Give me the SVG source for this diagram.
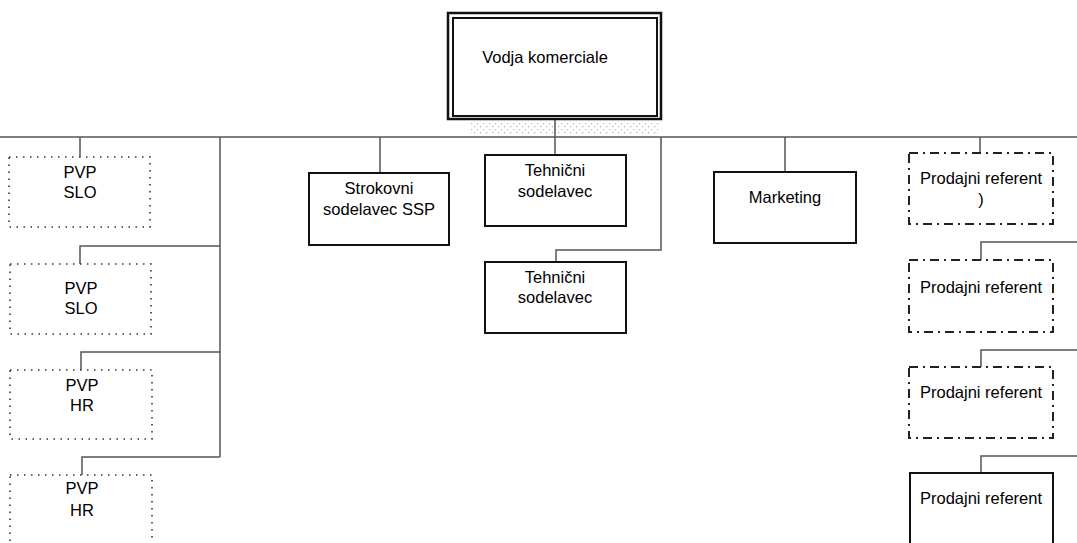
<svg xmlns="http://www.w3.org/2000/svg" width="1077" height="543" viewBox="0 0 1077 543">
<defs>
<style>
.t{font-family:"Liberation Sans",Arial,sans-serif;font-size:16.5px;fill:#000;text-anchor:middle}
.solid{fill:#fff;stroke:#111;stroke-width:2}
.dot{fill:#fff;stroke:#333;stroke-width:1.6;stroke-dasharray:1.5 5.5}
.dd{fill:#fff;stroke:#222;stroke-width:2;stroke-dasharray:9 5 2 5}
.c{fill:none;stroke:#555;stroke-width:1.5}
</style>
<pattern id="speck" width="6" height="6" patternUnits="userSpaceOnUse">
<rect x="0" y="0" width="1.2" height="1.2" fill="#888"/>
<rect x="3" y="3" width="1.2" height="1.2" fill="#999"/>
</pattern>
</defs>
<rect width="1077" height="543" fill="#fff"/>
<rect x="470" y="121" width="190" height="14" fill="url(#speck)" opacity="0.7"/>
<g id="connectors">
<line class="c" x1="0" y1="137" x2="1077" y2="137"/>
<line class="c" x1="555" y1="120" x2="555" y2="155"/>
<polyline class="c" points="80,137 80,157"/>
<polyline class="c" points="220,137 220,457"/>
<polyline class="c" points="220,246 80,246 80,264"/>
<polyline class="c" points="220,352 81,352 81,370"/>
<polyline class="c" points="220,457 82,457 82,475"/>
<line class="c" x1="380" y1="137" x2="380" y2="173"/>
<polyline class="c" points="661,137 661,250 556,250 556,262"/>
<line class="c" x1="785" y1="137" x2="785" y2="172"/>
<line class="c" x1="980" y1="137" x2="980" y2="153"/>
<polyline class="c" points="1077,242 981,242 981,260"/>
<polyline class="c" points="1077,350 981,350 981,367"/>
<polyline class="c" points="1077,456 981,456 981,473"/>
</g>
<g id="vodja">
<rect x="448" y="13" width="213" height="106" fill="#fff" stroke="#111" stroke-width="2.5"/>
<rect x="453" y="18" width="204" height="98" fill="none" stroke="#111" stroke-width="2"/>
<text class="t" x="545" y="63">Vodja komerciale</text>
</g>
<g id="pvp1">
<rect class="dot" x="9" y="157" width="141" height="70"/>
<text class="t" x="80" y="178">PVP</text>
<text class="t" x="80" y="198">SLO</text>
</g>
<g id="pvp2">
<rect class="dot" x="10" y="264" width="141" height="70"/>
<text class="t" x="81" y="294">PVP</text>
<text class="t" x="81" y="314">SLO</text>
</g>
<g id="pvp3">
<rect class="dot" x="10" y="370" width="142" height="69"/>
<text class="t" x="82" y="391">PVP</text>
<text class="t" x="82" y="411">HR</text>
</g>
<g id="pvp4">
<rect class="dot" x="10" y="475" width="142" height="80"/>
<text class="t" x="82" y="494">PVP</text>
<text class="t" x="82" y="516">HR</text>
</g>
<g id="strokovni">
<rect class="solid" x="309" y="173" width="140" height="72"/>
<text class="t" x="379" y="194">Strokovni</text>
<text class="t" x="379" y="215">sodelavec SSP</text>
</g>
<g id="tehnicni1">
<rect class="solid" x="485" y="155" width="141" height="71"/>
<text class="t" x="555" y="176">Tehnični</text>
<text class="t" x="555" y="197">sodelavec</text>
</g>
<g id="tehnicni2">
<rect class="solid" x="485" y="262" width="141" height="71"/>
<text class="t" x="555" y="283">Tehnični</text>
<text class="t" x="555" y="303">sodelavec</text>
</g>
<g id="marketing">
<rect class="solid" x="714" y="172" width="142" height="71"/>
<text class="t" x="785" y="203">Marketing</text>
</g>
<g id="prodajni1">
<rect class="dd" x="909" y="153" width="144" height="71"/>
<text class="t" x="981" y="184">Prodajni referent</text>
<text class="t" x="981" y="205">)</text>
</g>
<g id="prodajni2">
<rect class="dd" x="909" y="260" width="144" height="72"/>
<text class="t" x="981" y="293">Prodajni referent</text>
</g>
<g id="prodajni3">
<rect class="dd" x="909" y="367" width="144" height="71"/>
<text class="t" x="981" y="398">Prodajni referent</text>
</g>
<g id="prodajni4">
<rect class="solid" x="910" y="473" width="143" height="85"/>
<text class="t" x="981" y="504">Prodajni referent</text>
</g>
</svg>
